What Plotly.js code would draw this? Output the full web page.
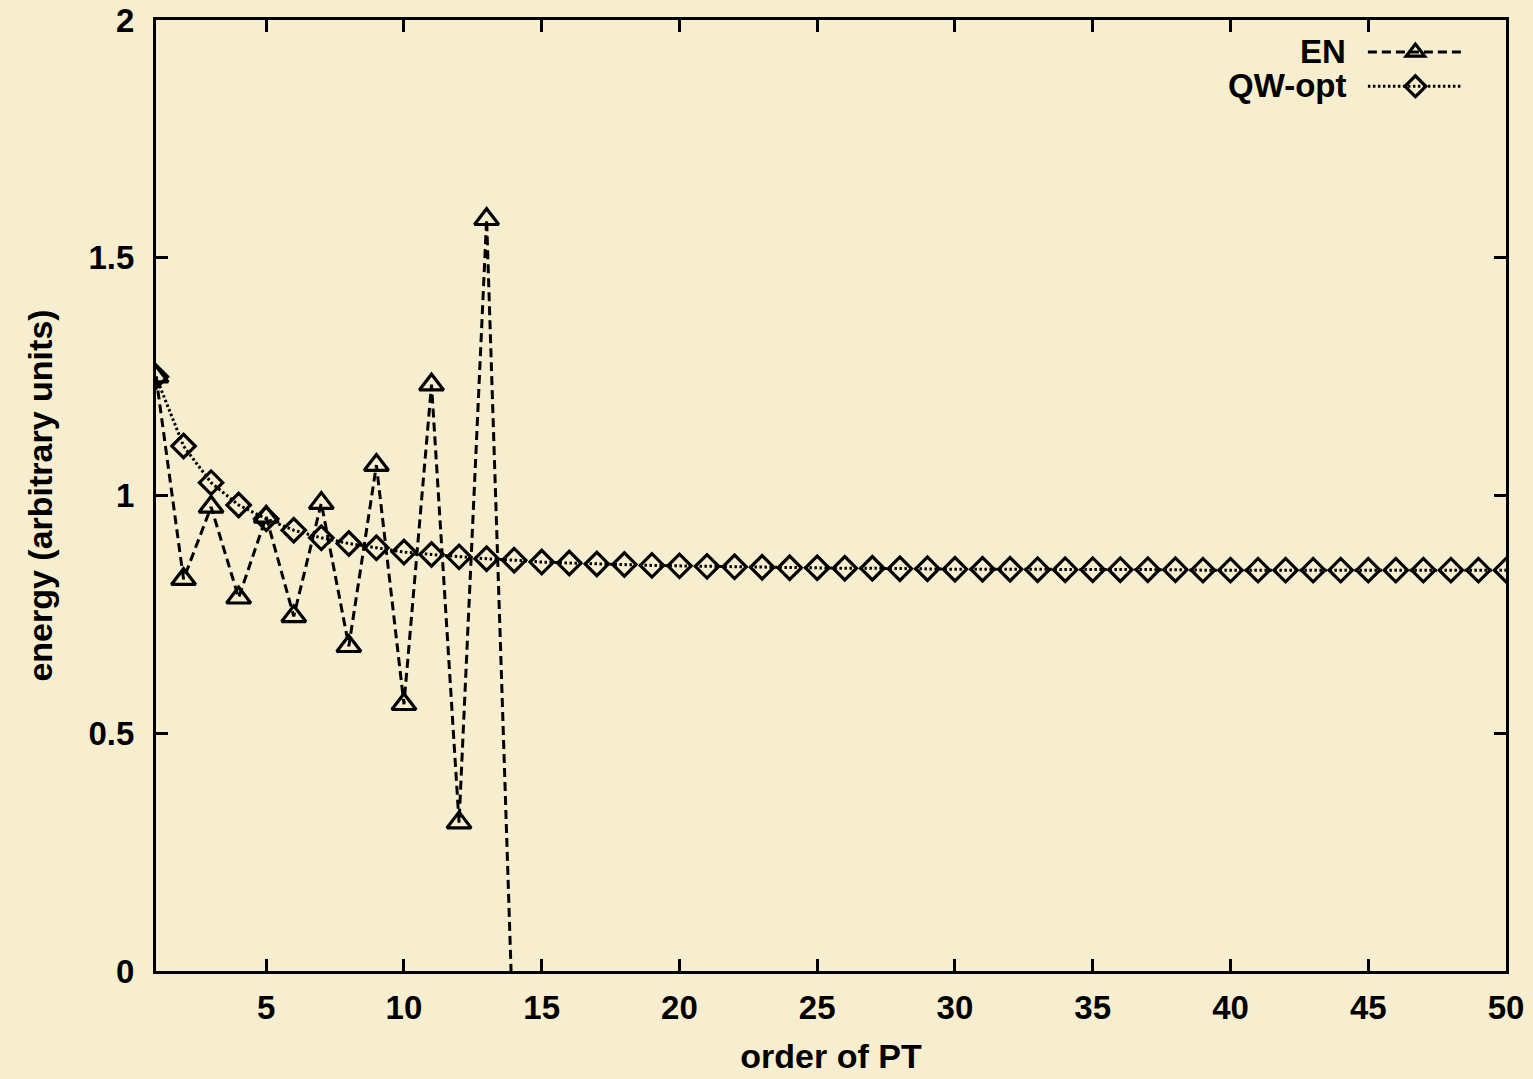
<!DOCTYPE html>
<html>
<head>
<meta charset="utf-8">
<script src="https://cdn.plot.ly/plotly-3.0.1.min.js"></script>
<style>
  html, body { margin: 0; padding: 0; background: #f7eed0; }
  #chart { width: 1533px; height: 1079px; }
</style>
</head>
<body>
<div id="chart"></div>
<script>
// ---- data ----
const seriesNames = ['EN', 'QW-opt'];

const orderEN = [1, 2, 3, 4, 5, 6, 7, 8, 9, 10, 11, 12, 13, 14];
const energyEN = [1.25, 0.824, 0.976, 0.785, 0.955, 0.746, 0.984, 0.683, 1.064, 0.561, 1.233, 0.312, 1.581, -0.20];

const orderQW = [1, 2, 3, 4, 5, 6, 7, 8, 9, 10,
                 11, 12, 13, 14, 15, 16, 17, 18, 19, 20,
                 21, 22, 23, 24, 25, 26, 27, 28, 29, 30,
                 31, 32, 33, 34, 35, 36, 37, 38, 39, 40,
                 41, 42, 43, 44, 45, 46, 47, 48, 49, 50];
const energyQW = [1.25, 1.104, 1.027, 0.980, 0.951, 0.927, 0.911, 0.899, 0.890, 0.881,
                  0.876, 0.871, 0.867, 0.864, 0.860, 0.858, 0.856, 0.855, 0.853, 0.852,
                  0.851, 0.850, 0.849, 0.848, 0.848, 0.847, 0.847, 0.846, 0.846, 0.845,
                  0.845, 0.845, 0.844, 0.844, 0.844, 0.844, 0.844, 0.844, 0.843, 0.843,
                  0.843, 0.843, 0.843, 0.843, 0.843, 0.843, 0.843, 0.843, 0.843, 0.843];

const xTickVals = [5, 10, 15, 20, 25, 30, 35, 40, 45, 50];
const xTickText = ['5', '10', '15', '20', '25', '30', '35', '40', '45', '50'];
const yTickVals = [0, 0.5, 1, 1.5, 2];
const yTickText = ['0', '0.5', '1', '1.5', '2'];

const xTitle = 'order of PT';
const yTitle = 'energy (arbitrary units)';

// ---- styling ----
const BG = '#f7eed0';
const FONT = 'Liberation Sans, Arial, Helvetica, sans-serif';
const bold = (size) => ({ family: FONT, size: size, color: '#000', weight: 'bold' });

const traces = [
  {
    x: orderEN, y: energyEN, name: ' ', meta: seriesNames[0],
    type: 'scatter', mode: 'lines+markers',
    line: { color: '#000', width: 3, dash: '9px,5px' },
    marker: { symbol: 'triangle-up-open', size: 21, color: '#000', line: { color: '#000', width: 3.2 } },
    hovertemplate: seriesNames[0] + ': %{y}<extra></extra>'
  },
  {
    x: orderQW, y: energyQW, name: '  ', meta: seriesNames[1],
    type: 'scatter', mode: 'lines+markers',
    line: { color: '#000', width: 3, dash: '2.5px,2.5px' },
    marker: { symbol: 'diamond-open', size: 18, color: '#000', line: { color: '#000', width: 3.2 } },
    hovertemplate: seriesNames[1] + ': %{y}<extra></extra>'
  }
];

const axisCommon = {
  showline: true, linewidth: 3, linecolor: '#000', mirror: 'ticks',
  ticks: 'inside', ticklen: 12, tickwidth: 3, tickcolor: '#000',
  showgrid: false, zeroline: false, tickmode: 'array',
  tickfont: bold(33)
};

const layout = {
  width: 1533, height: 1079,
  paper_bgcolor: BG, plot_bgcolor: BG,
  margin: { l: 156, r: 27, t: 20, b: 108 },
  showlegend: true,
  legend: {
    x: 0.894, xanchor: 'left', y: 0.9895, yanchor: 'top',
    bgcolor: 'rgba(0,0,0,0)', borderwidth: 0,
    itemwidth: 95, font: bold(24), tracegroupgap: 0
  },
  xaxis: Object.assign({}, axisCommon, {
    range: [1, 50], tickvals: xTickVals, ticktext: xTickText,
    ticklabelstandoff: 5,
    title: { text: xTitle, font: bold(34), standoff: 20 }
  }),
  yaxis: Object.assign({}, axisCommon, {
    range: [0, 2], tickvals: yTickVals, ticktext: yTickText,
    ticklabelstandoff: 12,
    title: { text: yTitle, font: bold(34), standoff: 26 }
  }),
  annotations: [
    { text: seriesNames[0], xref: 'paper', yref: 'paper', x: 0.883, y: 0.9674,
      xanchor: 'right', yanchor: 'middle', showarrow: false, font: bold(33) },
    { text: seriesNames[1], xref: 'paper', yref: 'paper', x: 0.883, y: 0.9306,
      xanchor: 'right', yanchor: 'middle', showarrow: false, font: bold(33) }
  ]
};

Plotly.newPlot('chart', traces, layout, { displayModeBar: false, staticPlot: true });
</script>
</body>
</html>
